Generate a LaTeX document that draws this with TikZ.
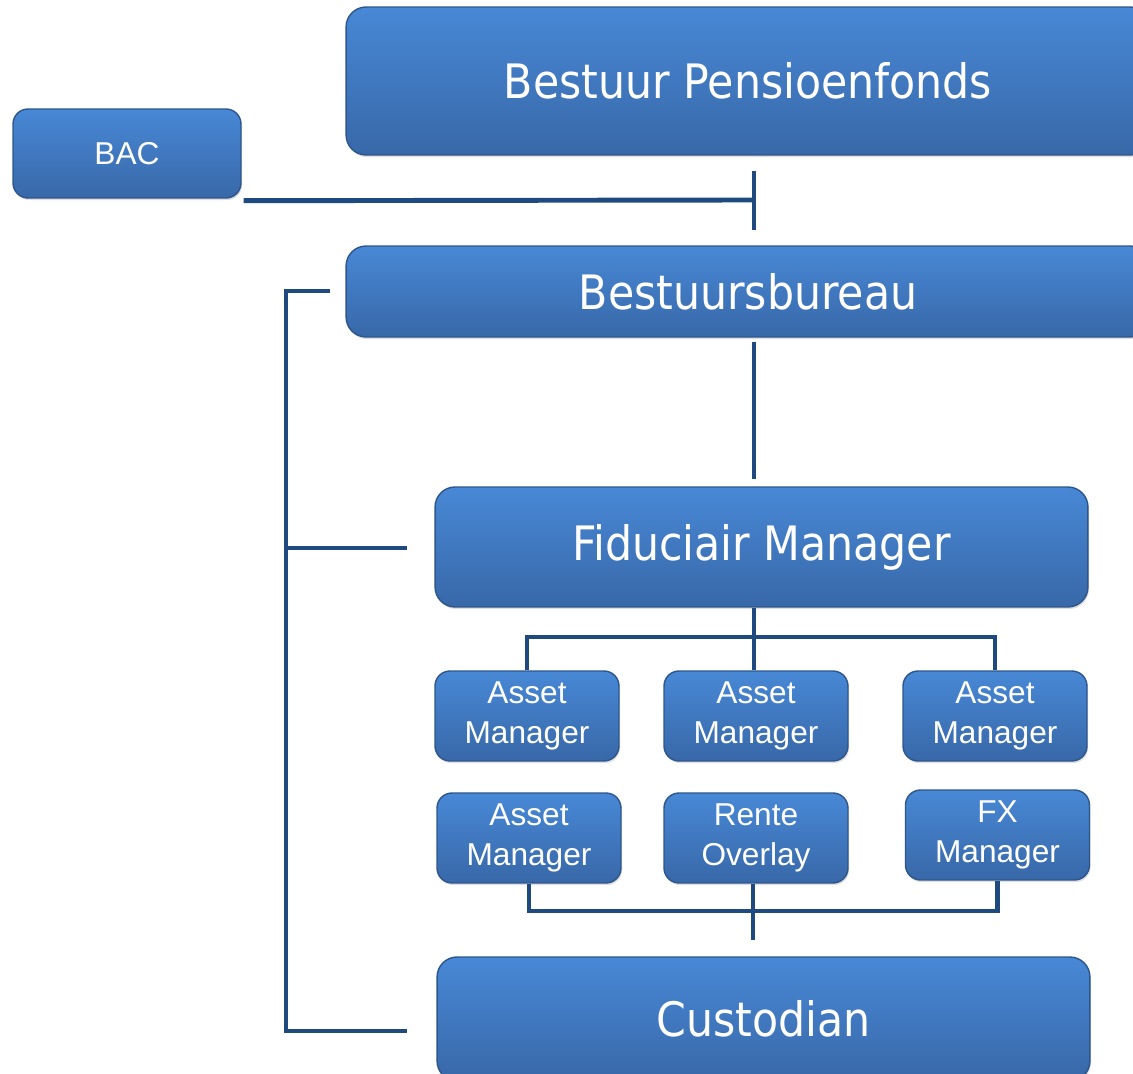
\documentclass[tikz,border=0pt]{standalone}
\usepackage{fontspec}
\setmainfont{Liberation Sans}
\newfontfamily\bigfont{DejaVu Sans Condensed}
\usetikzlibrary{shadows}
\definecolor{boxtop}{RGB}{72,136,214}
\definecolor{boxbot}{RGB}{56,104,168}
\definecolor{boxline}{RGB}{44,86,140}
\definecolor{conncol}{RGB}{31,74,128}
\begin{document}
\begin{tikzpicture}[x=0.02cm,y=-0.02cm,
    box/.style={rectangle,rounded corners=0.3cm,draw=boxline,line width=0.8pt,
        top color=boxtop,bottom color=boxbot,text=white,align=center,inner sep=0pt,
        drop shadow={opacity=0.25,shadow xshift=0.6pt,shadow yshift=-1.2pt}},
    bigbox/.style={box,rounded corners=0.4cm,font=\bigfont\fontsize{27}{31}\selectfont},
    smallbox/.style={box,minimum width=3.68cm,minimum height=1.8cm,
        font=\fontsize{18}{22.5}\selectfont},
    conn/.style={draw=conncol,line width=2.8pt}]
    \useasboundingbox (0,0) rectangle (1133,1074);
    \clip (0,0) rectangle (1133,1074);
    %NODE
    \node[bigbox,minimum width=16.08cm,minimum height=2.96cm] (bestuur) at (748,81) {Bestuur Pensioenfonds};
    \node[box,minimum width=4.56cm,minimum height=1.78cm,font=\fontsize{18}{20}\selectfont] (bac) at (127,153.5) {BAC};
    \node[bigbox,minimum width=16.08cm,minimum height=1.82cm] (bureau) at (748,291.5) {Bestuursbureau};
    \node[bigbox,minimum width=13.06cm,minimum height=2.4cm] (fidu) at (761.5,547) {Fiduciair Manager};
    \node[smallbox] (am1) at (527,716) {Asset\\Manager};
    \node[smallbox] (am2) at (756,716) {Asset\\Manager};
    \node[smallbox] (am3) at (995,716) {Asset\\Manager};
    \node[smallbox] (am4) at (529,838) {Asset\\Manager};
    \node[smallbox] (rente) at (756,838) {Rente\\Overlay};
    \node[smallbox] (fx) at (997.5,835) {FX\\Manager};
    \node[bigbox,minimum width=13.06cm,minimum height=2.48cm] (cust) at (763.5,1019) {Custodian};

    %COORDINATE
    \coordinate (t1) at (754,171);
    \coordinate (t2) at (754,230);
    \coordinate (bt) at (754,200);
    \coordinate (b1) at (754,342);
    \coordinate (b2) at (754,479);
    \coordinate (l1) at (330,291);
    \coordinate (l2) at (286,291);
    \coordinate (lf) at (407,548);
    \coordinate (lc) at (407,1031);
    \coordinate (h1) at (754,637);
    \coordinate (h2) at (753,911);
    \coordinate (c1) at (753,940);

    %EDGE
    \draw[conn] (t1) -- (t2);
    \draw[conn] (bac.south east) ++(2,2) -- (bt);
    \draw[conn] (b1) -- (b2);
    \draw[conn] (l1) -- (l2) |- (lc);
    \draw[conn] (lf) -- (lf -| l2);
    \draw[conn] (fidu.south -| h1) -- (am2.north -| h1);
    \draw[conn] (am1.north) |- (h1) -| (am3.north);
    \draw[conn] (am4.south) |- (h2) -| (fx.south);
    \draw[conn] (rente.south -| c1) -- (c1);
\end{tikzpicture}
\end{document}
